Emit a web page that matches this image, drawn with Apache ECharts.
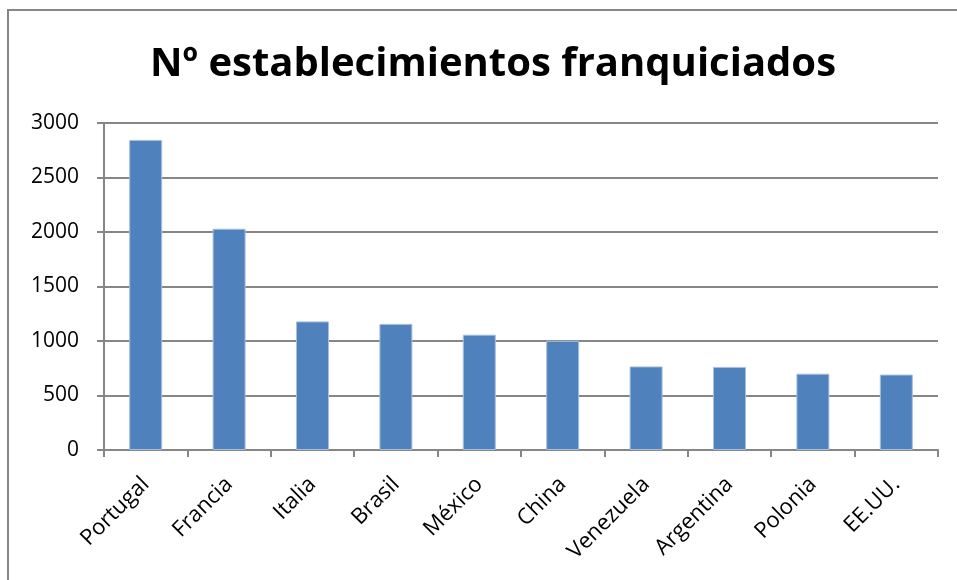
<!DOCTYPE html>
<html>
<head>
<meta charset="utf-8">
<script src="https://cdn.jsdelivr.net/npm/echarts@6/dist/echarts.min.js"></script>
<style>
html,body{margin:0;padding:0;background:#fff;}
#chart{width:957px;height:580px;}
</style>
</head>
<body>
<div id="chart"></div>
<script>
const titleText = "Nº establecimientos franquiciados";
const categories = ["Portugal","Francia","Italia","Brasil","México","China","Venezuela","Argentina","Polonia","EE.UU."];
const values = [2845, 2030, 1180, 1157, 1058, 1002, 767, 762, 700, 692];
const yTicks = [0, 500, 1000, 1500, 2000, 2500, 3000];

const chart = echarts.init(document.getElementById('chart'), null, {renderer:'canvas'});
const font = "'Open Sans', 'Noto Sans', sans-serif";
chart.setOption({
  backgroundColor: '#ffffff',
  animation: false,
  title: {
    text: titleText,
    left: 488, top: 40,
    textAlign: 'center',
    textStyle: {fontFamily: font, fontWeight: 'bold', fontSize: 40, color: '#000'}
  },
  graphic: [{
    type: 'rect',
    shape: {x: 8, y: 10, width: 1000, height: 700},
    style: {fill: 'none', stroke: '#868686', lineWidth: 2},
    silent: true
  }],
  grid: {left: 104, right: 19, top: 123, bottom: 130, containLabel: false},
  xAxis: {
    type: 'category',
    data: categories,
    boundaryGap: true,
    axisLine: {show: true, lineStyle: {color: '#868686', width: 2}},
    axisTick: {show: true, length: 7, lineStyle: {color: '#868686', width: 2}},
    axisLabel: {rotate: 45, margin: 31, fontFamily: font, fontSize: 22, color: '#000'}
  },
  yAxis: {
    type: 'value',
    min: yTicks[0], max: yTicks[yTicks.length-1], interval: 500,
    axisLine: {show: true, lineStyle: {color: '#868686', width: 2}},
    axisTick: {show: true, length: 7, lineStyle: {color: '#868686', width: 2}},
    splitLine: {show: true, lineStyle: {color: '#868686', width: 2}},
    axisLabel: {margin: 25, fontFamily: font, fontSize: 21, color: '#000', formatter: v => String(v)}
  },
  series: [{
    type: 'bar',
    data: values,
    barWidth: 33,
    itemStyle: {color: '#4F81BD', borderColor: '#A7BFDE', borderWidth: 1}
  }]
});
</script>
</body>
</html>
